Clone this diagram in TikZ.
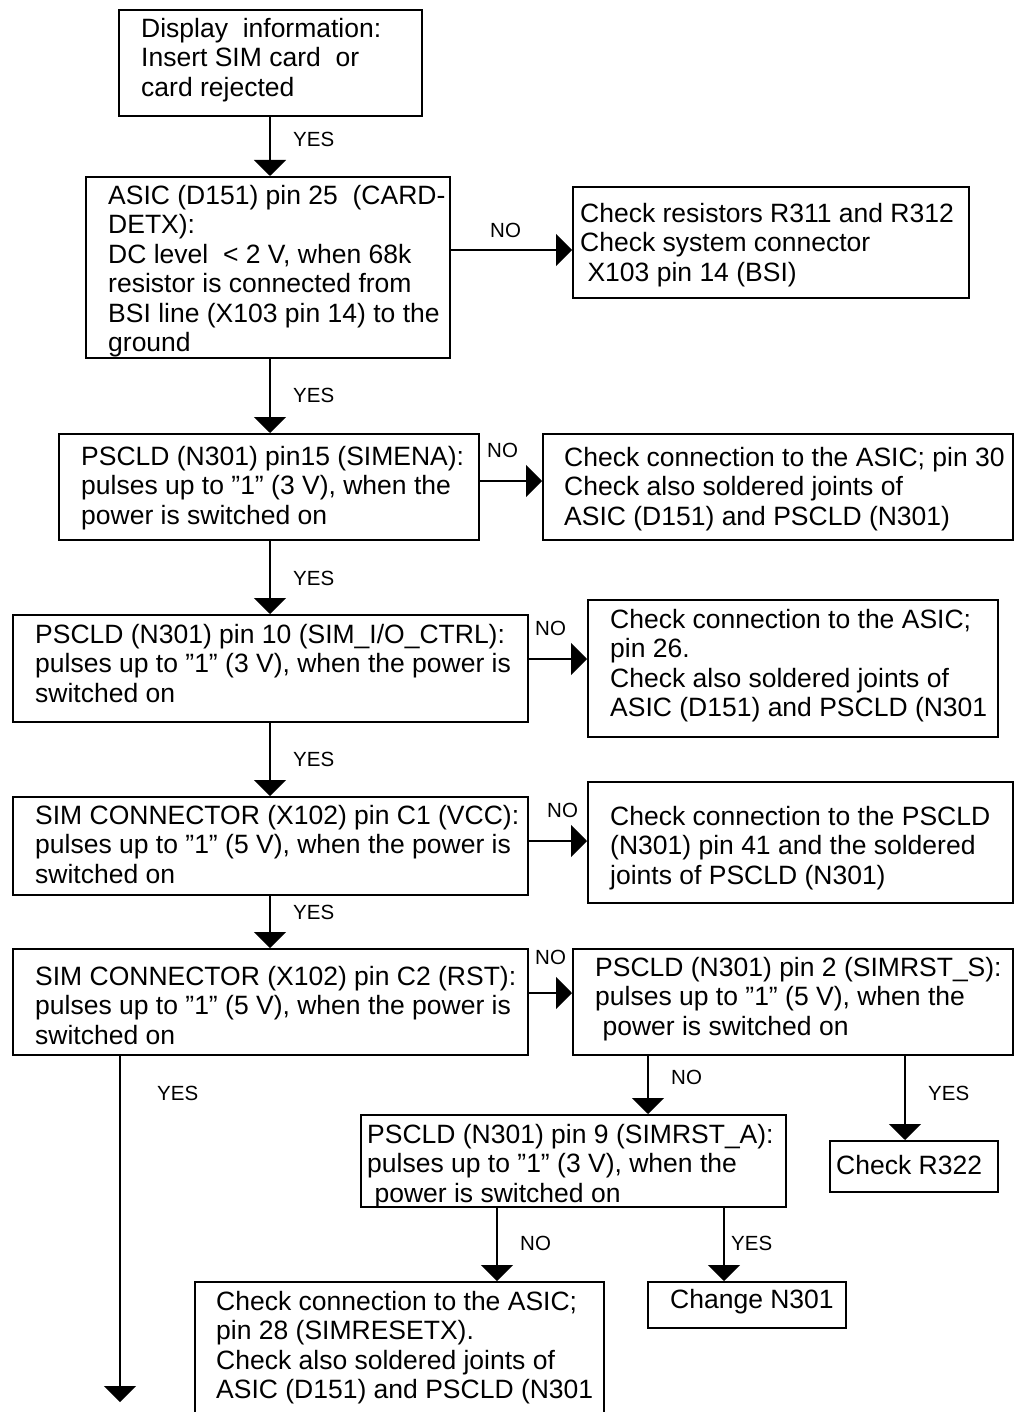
\documentclass[tikz,border=0pt]{standalone}
\usepackage{fontspec}
\setmainfont{Liberation Sans}
\usetikzlibrary{arrows.meta}
\begin{document}
\begin{tikzpicture}[x=1pt,y=-1pt,
        box/.style={draw=black,line width=2pt,inner sep=0pt,anchor=north west},
        txt/.style={inner sep=0pt,anchor=north west,align=left,font=\fontsize{26.5}{29.5}\selectfont},
        lbl/.style={inner sep=0pt,anchor=west,font=\fontsize{20.5}{24}\selectfont},
        arr/.style={draw=black,line width=2pt,-{Triangle[width=32pt,length=16pt]}}]
        \useasboundingbox (0,0) rectangle (1018,1412);
        \coordinate (trunk) at (270,0);
        \node[box,minimum width=303,minimum height=106] (disp) at (118,9) {};
        \node[txt] (disp-t) at (141,18) {Display~ information:\\Insert SIM card~ or\\card rejected};
        \node[box,minimum width=364,minimum height=181] (cardet) at (85,176) {};
        \node[txt] (cardet-t) at (108,185) {ASIC (D151) pin 25~ (CARD-\\DETX):\\DC level~ < 2 V, when 68k\\resistor is connected from\\BSI line (X103 pin 14) to the\\ground};
        \node[box,minimum width=396,minimum height=111] (bsichk) at (572,186) {};
        \node[txt] (bsichk-t) at (580,203) {Check resistors R311 and R312\\Check system connector\\~X103 pin 14 (BSI)};
        \node[box,minimum width=420,minimum height=106] (simena) at (58,433) {};
        \node[txt] (simena-t) at (81,446) {PSCLD (N301) pin15 (SIMENA):\\pulses up to ”1” (3 V), when the\\power is switched on};
        \node[box,minimum width=470,minimum height=106] (enachk) at (542,433) {};
        \node[txt] (enachk-t) at (564,447) {Check connection to the ASIC; pin 30\\Check also soldered joints of\\ASIC (D151) and PSCLD (N301)};
        \node[box,minimum width=515,minimum height=107] (simio) at (12,614) {};
        \node[txt] (simio-t) at (35,624) {PSCLD (N301) pin 10 (SIM\_I/O\_CTRL):\\pulses up to ”1” (3 V), when the power is\\switched on};
        \node[box,minimum width=410,minimum height=137] (iochk) at (587,599) {};
        \node[txt] (iochk-t) at (610,609) {Check connection to the ASIC;\\pin 26.\\Check also soldered joints of\\ASIC (D151) and PSCLD (N301};
        \node[box,minimum width=515,minimum height=98] (simvcc) at (12,796) {};
        \node[txt] (simvcc-t) at (35,805) {SIM CONNECTOR (X102) pin C1 (VCC):\\pulses up to ”1” (5 V), when the power is\\switched on};
        \node[box,minimum width=425,minimum height=121] (vccchk) at (587,781) {};
        \node[txt] (vccchk-t) at (610,806) {Check connection to the PSCLD\\(N301) pin 41 and the soldered\\joints of PSCLD (N301)};
        \node[box,minimum width=515,minimum height=106] (simrst) at (12,948) {};
        \node[txt] (simrst-t) at (35,966) {SIM CONNECTOR (X102) pin C2 (RST):\\pulses up to ”1” (5 V), when the power is\\switched on};
        \node[box,minimum width=440,minimum height=106] (rsts) at (572,948) {};
        \node[txt] (rsts-t) at (595,957) {PSCLD (N301) pin 2 (SIMRST\_S):\\pulses up to ”1” (5 V), when the\\~power is switched on};
        \node[box,minimum width=425,minimum height=92] (rsta) at (360,1114) {};
        \node[txt] (rsta-t) at (367,1124) {PSCLD (N301) pin 9 (SIMRST\_A):\\pulses up to ”1” (3 V), when the\\~power is switched on};
        \node[box,minimum width=168,minimum height=51] (rchk) at (829,1140) {};
        \node[txt] (rchk-t) at (836,1155) {Check R322};
        \node[box,minimum width=198,minimum height=46] (chg) at (647,1281) {};
        \node[txt] (chg-t) at (670,1289) {Change N301};
        \node[box,minimum width=409,minimum height=150] (rstchk) at (194,1281) {};
        \node[txt] (rstchk-t) at (216,1291) {Check connection to the ASIC;\\pin 28 (SIMRESETX).\\Check also soldered joints of\\ASIC (D151) and PSCLD (N301};
        \draw[arr] (disp.south -| trunk) -- (cardet.north -| trunk);
        \node[lbl] (yes1) at (293,139) {YES};
        \draw[arr] (cardet.east |- 0,250) -- (bsichk.west |- 0,250);
        \node[lbl] (no1) at (490,230) {NO};
        \draw[arr] (cardet.south -| trunk) -- (simena.north -| trunk);
        \node[lbl] (yes2) at (293,395) {YES};
        \draw[arr] (simena.east |- 0,481) -- (enachk.west |- 0,481);
        \node[lbl] (no2) at (487,450) {NO};
        \draw[arr] (simena.south -| trunk) -- (simio.north -| trunk);
        \node[lbl] (yes3) at (293,578) {YES};
        \draw[arr] (simio.east |- 0,659) -- (iochk.west |- 0,659);
        \node[lbl] (no3) at (535,628) {NO};
        \draw[arr] (simio.south -| trunk) -- (simvcc.north -| trunk);
        \node[lbl] (yes4) at (293,759) {YES};
        \draw[arr] (simvcc.east |- 0,841) -- (vccchk.west |- 0,841);
        \node[lbl] (no4) at (547,810) {NO};
        \draw[arr] (simvcc.south -| trunk) -- (simrst.north -| trunk);
        \node[lbl] (yes5) at (293,912) {YES};
        \draw[arr] (simrst.east |- 0,993) -- (rsts.west |- 0,993);
        \node[lbl] (no5) at (535,957) {NO};
        \coordinate (yesend) at (120,1402);
        \draw[arr] (simrst.south -| yesend) -- (yesend);
        \node[lbl] (yes6) at (157,1093) {YES};
        \draw[arr] (rsts.south -| 648,0) -- (rsta.north -| 648,0);
        \node[lbl] (no6) at (671,1077) {NO};
        \draw[arr] (rsts.south -| 905,0) -- (rchk.north -| 905,0);
        \node[lbl] (yes7) at (928,1093) {YES};
        \draw[arr] (rsta.south -| 497,0) -- (rstchk.north -| 497,0);
        \node[lbl] (no7) at (520,1243) {NO};
        \draw[arr] (rsta.south -| 724,0) -- (chg.north -| 724,0);
        \node[lbl] (yes8) at (731,1243) {YES};
\end{tikzpicture}
\end{document}
